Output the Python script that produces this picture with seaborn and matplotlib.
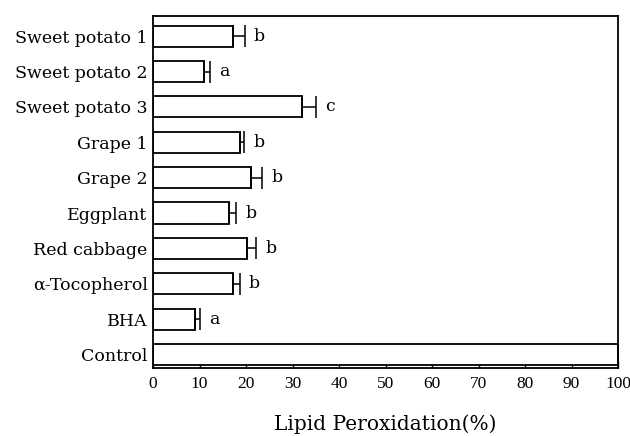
import pandas as pd
import seaborn as sns
import matplotlib.pyplot as plt

# Data
samples = ['Sweet potato 1', 'Sweet potato 2', 'Sweet potato 3', 'Grape 1',
           'Grape 2', 'Eggplant', 'Red cabbage', '\u03b1-Tocopherol', 'BHA', 'Control']
peroxidation = [17.1, 10.9, 32.1, 18.6, 21.0, 16.3, 20.1, 17.1, 9.0, 100.0]
errors = [2.6, 1.3, 3.0, 1.0, 2.5, 1.5, 2.0, 1.5, 1.0, 0.0]
letters = ['b', 'a', 'c', 'b', 'b', 'b', 'b', 'b', 'a', '']

df = pd.DataFrame({'sample': samples, 'value': peroxidation, 'err': errors})

sns.set_style('ticks', {'text.color': 'black', 'axes.labelcolor': 'black',
                        'xtick.color': 'black', 'ytick.color': 'black',
                        'axes.edgecolor': 'black'})
plt.rcParams['font.family'] = ['DejaVu Serif']

fig, ax = plt.subplots(figsize=(6.3, 4.36), dpi=100)
fig.subplots_adjust(left=0.243, right=0.981, top=0.963, bottom=0.156)

sns.barplot(data=df, x='value', y='sample', orient='h', color='white',
            edgecolor='black', linewidth=1.3, width=0.6, errorbar=None, ax=ax)

# one-sided error bars
ax.errorbar(df['value'], range(len(df)), xerr=[[0] * len(df), df['err']],
            fmt='none', ecolor='black', elinewidth=1.1, capsize=8, capthick=1.1)

for i, (v, e, t) in enumerate(zip(peroxidation, errors, letters)):
    if t:
        ax.text(v + e + 2.0, i, t, va='center', ha='left', fontsize=12.5)

ax.set_xlim(0, 100)
ax.set_ylim(9.38, -0.565)
ax.set_xticks(range(0, 101, 10))
ax.tick_params(axis='x', direction='in', length=5, width=1, pad=6)
ax.set_xticklabels([str(t) for t in range(0, 101, 10)],
                   family='Liberation Serif', fontsize=12.5)
ax.tick_params(axis='y', length=0, labelsize=12.5, pad=4)
ax.set_ylabel('')
ax.set_xlabel('Lipid Peroxidation(%)', fontsize=14.5, labelpad=16)
for s in ax.spines.values():
    s.set_visible(True)
    s.set_linewidth(1.3)

plt.savefig('out.png', dpi=100)
plt.close()
